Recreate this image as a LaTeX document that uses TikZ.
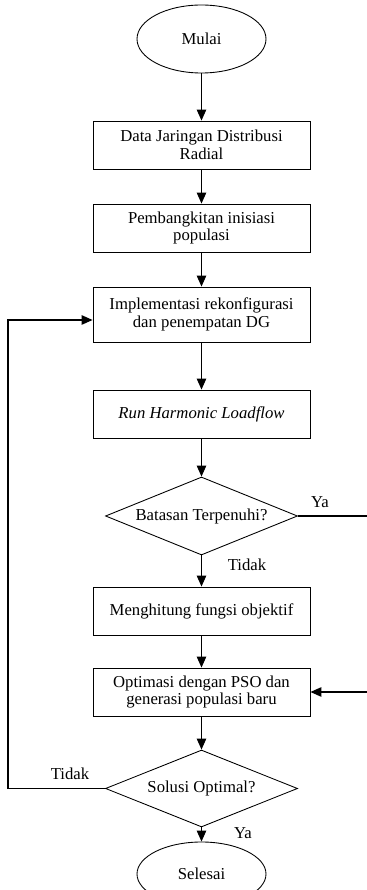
\documentclass[tikz,border=0pt]{standalone}
\usepackage{fontspec}
\setmainfont{Liberation Serif}
\usetikzlibrary{shapes.geometric,arrows.meta}
\tikzset{
  flowtext/.style={font=\fontsize{9.5}{10}\selectfont},
  procbox/.style={flowtext,draw,line width=0.5pt,minimum width=4.34cm,minimum height=0.96cm,align=center,inner sep=0pt},
  termnode/.style={flowtext,draw,ellipse,line width=0.5pt,minimum width=2.58cm,inner sep=0pt},
  decnode/.style={flowtext,draw,diamond,aspect=2.5,line width=0.5pt,minimum width=3.84cm,minimum height=1.56cm,inner sep=0pt},
  flowarrow/.style={-{Triangle[length=0.22cm,width=0.19cm]},line width=0.7pt},
  flowline/.style={line width=0.7pt},
  branchlabel/.style={flowtext,inner sep=0pt}
}
\begin{document}
\begin{tikzpicture}
\useasboundingbox (0,0) rectangle (7.34,17.8);
\node[termnode,minimum height=1.36cm] (mulai) at (4.03,17.02) {Mulai};
\node[procbox] (data) at (4.03,14.90) {Data Jaringan Distribusi\\Radial};
\node[procbox] (inisiasi) at (4.03,13.24) {Pembangkitan inisiasi\\populasi};
\node[procbox,minimum height=1.1cm] (impl) at (4.03,11.51) {Implementasi rekonfigurasi\\dan penempatan DG};
\node[procbox] (loadflow) at (4.03,9.52) {\textit{Run Harmonic Loadflow}};
\node[decnode] (batasan) at (4.03,7.48) {Batasan Terpenuhi?};
\node[procbox] (objektif) at (4.03,5.58) {Menghitung fungsi objektif};
\node[procbox] (pso) at (4.03,3.96) {Optimasi dengan PSO dan\\generasi populasi baru};
\node[decnode,minimum height=1.54cm] (optimal) at (4.03,2.03) {Solusi Optimal?};
\node[termnode,minimum height=1.28cm] (selesai) at (4.03,0.32) {Selesai};
\coordinate (yakeluar) at (7.34,7.48);
\coordinate (yamasuk) at (7.34,3.96);
\coordinate (balik) at (0.16,11.40);
\draw[flowarrow] (mulai) -- (data);
\draw[flowarrow] (data) -- (inisiasi);
\draw[flowarrow] (inisiasi) -- (impl);
\draw[flowarrow] (impl) -- (loadflow);
\draw[flowarrow] (loadflow) -- (batasan);
\draw[flowarrow] (batasan) -- (objektif);
\draw[flowarrow] (objektif) -- (pso);
\draw[flowarrow] (pso) -- (optimal);
\draw[flowarrow] (optimal) -- (selesai);
\draw[flowline] (batasan.east) -- (yakeluar);
\draw[flowarrow] (yamasuk) -- (pso.east);
\draw[flowarrow] (optimal.west) -| (balik) -- (impl.west |- balik);
\node[branchlabel] (ya1) at (6.40,7.76) {Ya};
\node[branchlabel] (tidak1) at (4.94,6.50) {Tidak};
\node[branchlabel] (tidak2) at (1.40,2.32) {Tidak};
\node[branchlabel] (ya2) at (4.86,1.14) {Ya};
\end{tikzpicture}
\end{document}
